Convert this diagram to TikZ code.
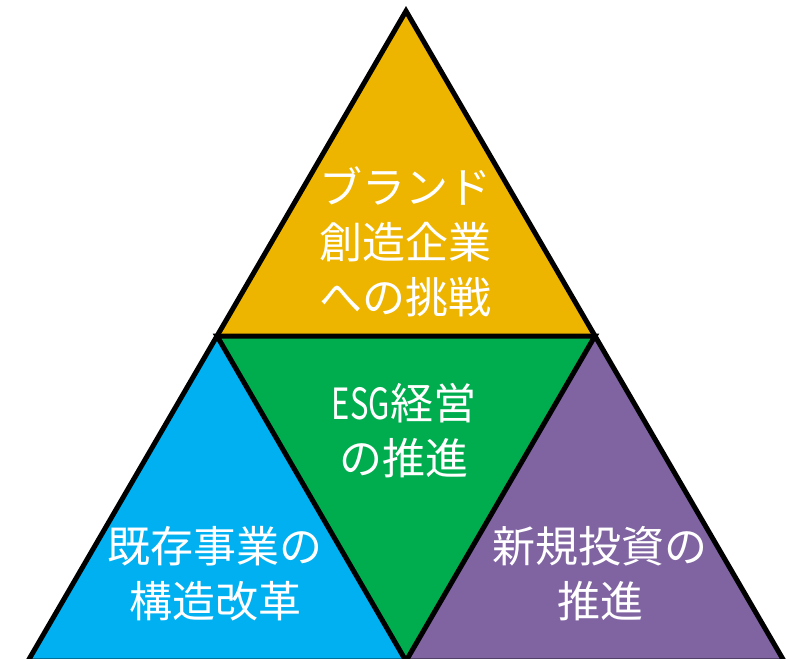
\documentclass[tikz,border=0pt]{standalone}
\usepackage{fontspec}
\usepackage{graphicx}
\usetikzlibrary{calc}
\newfontfamily\jp{Noto Sans CJK JP}
\definecolor{triyellow}{HTML}{EDB400}
\definecolor{trigreen}{HTML}{00AD4E}
\definecolor{triblue}{HTML}{00B0F0}
\definecolor{tripurple}{HTML}{8064A2}
\tikzset{
  part/.style={draw=black, line width=5pt, line join=miter},
  label/.style={text=white, align=center, font=\jp\fontsize{43}{55}\selectfont, inner sep=0pt}
}
\begin{document}
\begin{tikzpicture}[x=1pt,y=-1pt]
\useasboundingbox (0,0) rectangle (791,658);
\clip (0,0) rectangle (791,658);
\coordinate (A) at (406,11);
\coordinate (BL) at (28,661);
\coordinate (BR) at (784,661);
\coordinate (LM) at ($(A)!0.5!(BL)$);
\coordinate (RM) at ($(A)!0.5!(BR)$);
\coordinate (BM) at ($(BL)!0.5!(BR)$);
\fill[triyellow] (A) -- (LM) -- (RM) -- cycle;
\fill[trigreen] (LM) -- (RM) -- (BM) -- cycle;
\fill[triblue] (LM) -- (BL) -- (BM) -- cycle;
\fill[tripurple] (RM) -- (BM) -- (BR) -- cycle;
\draw[part] (A) -- (BL) -- (BR) -- cycle;
\draw[part] (LM) -- (RM) -- (BM) -- cycle;
\node[label] (top) at (405,242) {ブランド\\創造企業\\への挑戦};
\node[label] (mid) at (404,431) {\scalebox{0.72}[1]{ESG}経営\\の推進};
\node[label] (left) at (215,574) {既存事業の\\構造改革};
\node[label] (right) at (600,574) {新規投資の\\推進};
\end{tikzpicture}
\end{document}
